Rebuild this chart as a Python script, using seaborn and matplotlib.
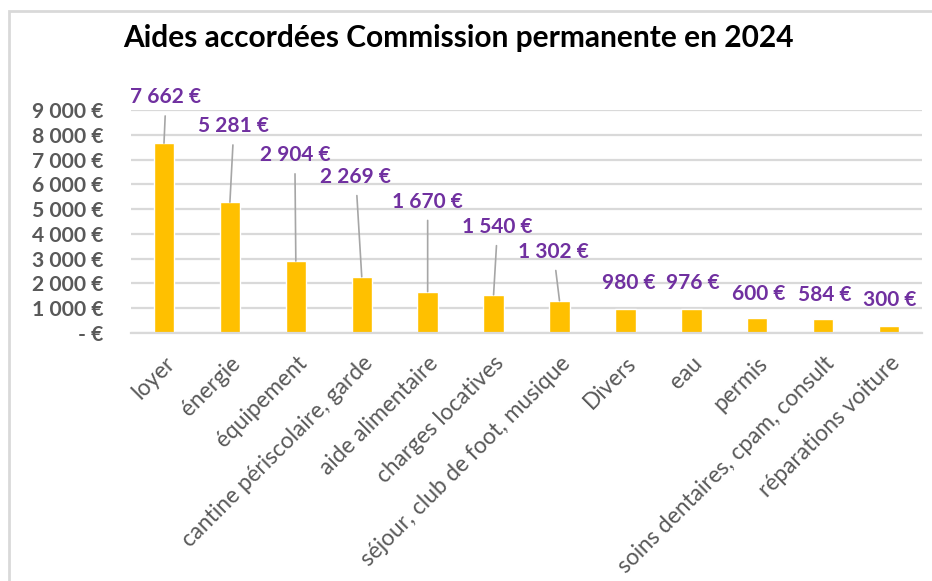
import matplotlib
matplotlib.use("Agg")
import matplotlib.pyplot as plt
import seaborn as sns
import pandas as pd
from matplotlib.patches import Rectangle

# Data
categories = [
    "loyer", "énergie", "équipement", "cantine périscolaire, garde",
    "aide alimentaire", "charges locatives", "séjour, club de foot, musique",
    "Divers", "eau", "permis", "soins dentaires, cpam, consult",
    "réparations voiture",
]
amounts = [7662, 5281, 2904, 2269, 1670, 1540, 1302, 980, 976, 600, 584, 300]
y_ticks = [0, 1000, 2000, 3000, 4000, 5000, 6000, 7000, 8000, 9000]

# Label offsets (pixels) from the bar top, as the labels were dragged in the original
label_dx = [2, 4, -1, -6, 0, 4, -6, 3, 1, 1, 2, 1]
label_dy = [46, 76, 106, 100, 90, 68, 49, 26, 26, 24, 24, 26]

df = pd.DataFrame({"category": categories, "amount": amounts})

sns.set_theme(style="white")
plt.rcParams["font.family"] = ["Lato", "DejaVu Sans"]

bar_color = "#FFC000"
label_color = "#7030A0"
text_gray = "#595959"
grid_gray = "#D9D9D9"


def euro(v):
    if v == 0:
        return "- €"
    return f"{v:,}".replace(",", " ") + " €"


fig = plt.figure(figsize=(9.32, 5.81), dpi=100)
ax = fig.add_axes([0.1406, 0.4269, 0.8487, 0.3838])

sns.barplot(data=df, x="category", y="amount", color=bar_color,
            width=0.31, saturation=1, ax=ax)

ax.set_ylim(0, 9000)
ax.set_xlim(-0.5, len(categories) - 0.5)
ax.set_yticks(y_ticks)
ax.set_yticklabels([euro(v) for v in y_ticks], fontsize=15.2, fontweight="bold",
                   color=text_gray)
ax.set_xticks(range(len(categories)))
ax.set_xticklabels(categories, rotation=45, ha="right", rotation_mode="anchor",
                   fontsize=16.3, color=text_gray)
ax.tick_params(axis="both", length=0)
ax.tick_params(axis="y", pad=20)
ax.tick_params(axis="x", pad=14)
ax.set_xlabel("")
ax.set_ylabel("")
ax.yaxis.grid(True, color=grid_gray, lw=1.6)
ax.set_axisbelow(True)
for side in ["top", "right", "left"]:
    ax.spines[side].set_visible(False)
ax.spines["bottom"].set_color(grid_gray)
ax.spines["bottom"].set_linewidth(1.6)

# Data labels with leader lines
for i, v in enumerate(amounts):
    dx, dy = label_dx[i], label_dy[i]
    arrow = None
    if dy > 40:
        arrow = dict(arrowstyle="-", color="#A6A6A6", lw=1.2,
                     shrinkA=4, shrinkB=0)
    ax.annotate(euro(v), xy=(i, v), xytext=(dx, dy), textcoords="offset pixels",
                ha="center", va="center", fontsize=15, fontweight="bold",
                color=label_color, annotation_clip=False, arrowprops=arrow)

fig.text(0.4914, 0.9346, "Aides accordées Commission permanente en 2024",
         ha="center", va="center", fontsize=21.5, fontweight="bold", color="black")

# Chart frame
fig.patches.append(Rectangle((0.0097, -0.02), 1.02, 1.001, transform=fig.transFigure,
                             fill=False, edgecolor=grid_gray, lw=2, zorder=0))

fig.savefig("out.png", dpi=100, facecolor="white")
